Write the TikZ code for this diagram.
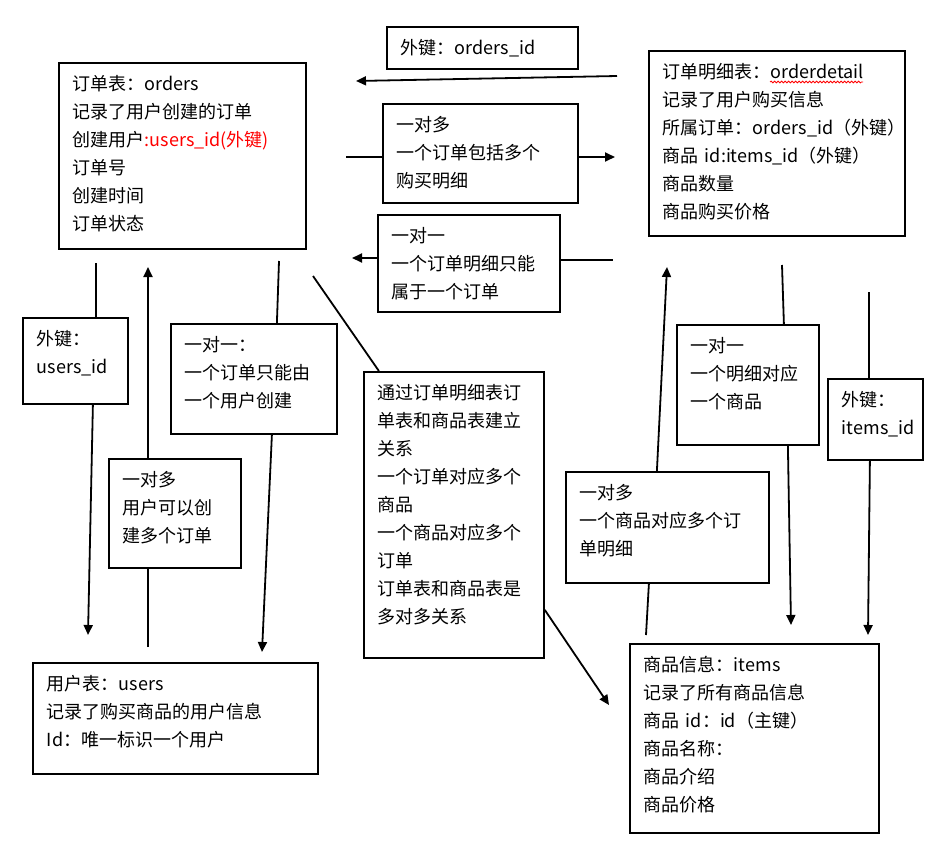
\documentclass[tikz,border=0pt]{standalone}
\usepackage{fontspec}
\newfontfamily\cjk{Noto Sans CJK SC}
\usepackage{tikz}
\usetikzlibrary{arrows.meta,positioning,calc,decorations.pathmorphing}
\definecolor{rouge}{RGB}{255,0,0}
\newlength\debut
\newlength\longueur
\tikzset{
	boite/.style={draw=black,line width=1.8pt,anchor=north west,align=left,inner xsep=14pt,inner ysep=0pt,text height=28pt},
	trait/.style={draw=black,line width=1.8pt},
	fleche/.style={trait,-{Triangle[length=10pt,width=9pt]}},
	vague/.style={draw=rouge,line width=0.8pt,decorate,decoration={snake,amplitude=0.9pt,segment length=3.5pt}}
}

\begin{document}
\settowidth\debut{\cjk\fontsize{18}{28}\selectfont 订单明细表：}
\settowidth\longueur{\cjk\fontsize{18}{28}\selectfont orderdetail}
\begin{tikzpicture}[x=1pt,y=-1pt,font=\cjk\fontsize{18}{28}\selectfont]
	\fill[white] (0,0) rectangle (935,855);
	\useasboundingbox (0,0) rectangle (935,855);

	\node[boite,text width=219pt,text depth=158pt] (orders) at (58,62) {订单表：orders\\记录了用户创建的订单\\创建用户{\color{rouge}:users\_id(外键)}\\订单号\\创建时间\\订单状态};
	\node[boite,text width=228pt,text depth=157pt] (detail) at (648,50) {订单明细表：orderdetail\\记录了用户购买信息\\所属订单：orders\_id（外键）\\商品~id:items\_id（外键）\\商品数量\\商品购买价格};
	\node[boite,text width=257pt,text depth=83pt] (users) at (32,662) {用户表：users\\记录了购买商品的用户信息\\Id：唯一标识一个用户};
	\node[boite,text width=221pt,text depth=161pt] (items) at (629,643) {商品信息：items\\记录了所有商品信息\\商品~id：id（主键）\\商品名称：\\商品介绍\\商品价格};

	\node[boite,text width=163pt,text depth=14pt] (ordfk) at (386,26) {外键：orders\_id};
	\node[boite,text width=167pt,text depth=71pt] (o2d) at (382,103) {一对多\\一个订单包括多个\\购买明细};
	\node[boite,text width=154pt,text depth=69pt] (d2o) at (377,214) {一对一\\一个订单明细只能\\属于一个订单};
	\node[boite,text width=77pt,text depth=58pt] (ufk) at (22,317) {外键：\\users\_id};
	\node[boite,text width=104pt,text depth=81pt] (u2o) at (108,458) {一对多\\用户可以创\\建多个订单};
	\node[boite,text width=138pt,text depth=82pt] (o2u) at (170,323) {一对一：\\一个订单只能由\\一个用户创建};
	\node[boite,text width=152pt,text depth=258pt] (link) at (363,371) {通过订单明细表订\\单表和商品表建立\\关系\\一个订单对应多个\\商品\\一个商品对应多个\\订单\\订单表和商品表是\\多对多关系};
	\node[boite,text width=114pt,text depth=92pt] (d2i) at (676,324) {一对一\\一个明细对应\\一个商品};
	\node[boite,text width=67pt,text depth=53pt] (ifk) at (827,378) {外键：\\items\_id};
	\node[boite,text width=175pt,text depth=83pt] (i2d) at (565,471) {一对多\\一个商品对应多个订\\单明细};

	\coordinate (ondeA) at ([xshift=14pt+\debut,yshift=-32pt]detail.north west);
	\coordinate (ondeB) at ([xshift=14pt+\debut+\longueur,yshift=-32pt]detail.north west);
	\draw[vague] (ondeA) -- (ondeB);

	\coordinate (fkA) at (617,76);
	\coordinate (fkB) at (356,81);
	\draw[fleche] (fkA) -- (fkB);
	\coordinate (odA) at (346,157);
	\coordinate (odB) at (615,157);
	\draw[trait] (odA) -- (odA -| o2d.west);
	\draw[fleche] (odB -| o2d.east) -- (odB);
	\coordinate (doA) at (352,258);
	\coordinate (doB) at (613,260);
	\draw[fleche] (doA -| d2o.west) -- (doA);
	\draw[trait] (doB -| d2o.east) -- (doB);

	\coordinate (ufA) at (96,263);
	\coordinate (ufB) at (88,635);
	\draw[trait] (ufA) -- ([xshift=20.5pt]ufk.north);
	\draw[fleche] ([xshift=17.5pt]ufk.south) -- (ufB);
	\coordinate (uoA) at (148,647);
	\coordinate (uoB) at (148,267);
	\draw[trait] (uoA) -- (uoA |- u2o.south);
	\draw[fleche] (uoB |- u2o.north) -- (uoB);
	\coordinate (ouA) at (279,261);
	\coordinate (ouB) at (262,652);
	\draw[trait] (ouA) -- ([xshift=23pt]o2u.north);
	\draw[fleche] ([xshift=18pt]o2u.south) -- (ouB);

	\coordinate (lkA) at (313,276);
	\coordinate (lkB) at (609,705);
	\draw[trait] (lkA) -- ([xshift=-75pt]link.north);
	\draw[fleche] ([yshift=-95pt]link.east) -- (lkB);

	\coordinate (idA) at (646,635);
	\coordinate (idB) at (667,267);
	\draw[trait] (idA) -- ([xshift=-18.5pt]i2d.south);
	\draw[fleche] ([xshift=-10.5pt]i2d.north) -- (idB);
	\coordinate (diA) at (782,265);
	\coordinate (diB) at (791,625);
	\draw[trait] (diA) -- ([xshift=36pt]d2i.north);
	\draw[fleche] ([xshift=40pt]d2i.south) -- (diB);
	\coordinate (ifA) at (869,292);
	\coordinate (ifB) at (868,635);
	\draw[trait] (ifA) -- (ifA |- ifk.north);
	\draw[fleche] ([xshift=-5.5pt]ifk.south) -- (ifB);
\end{tikzpicture}
\end{document}
